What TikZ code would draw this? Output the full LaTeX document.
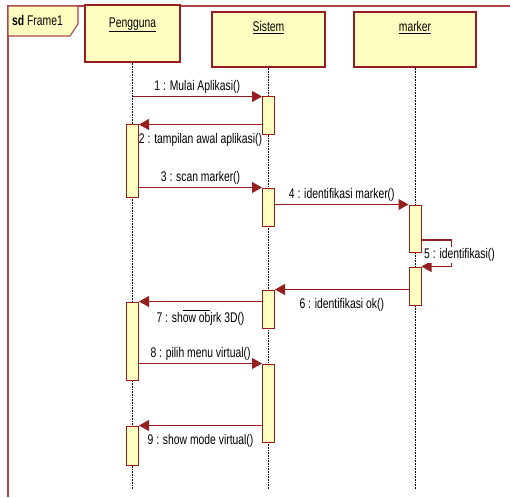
\documentclass[tikz,border=0pt]{standalone}
\usepackage{fontspec}
\setmainfont{Liberation Sans}[FakeStretch=0.74]
\usepackage{tikz}
\usetikzlibrary{arrows.meta}
\usetikzlibrary{positioning}
\definecolor{umlred}{RGB}{150,30,30}
\definecolor{framered}{RGB}{170,70,70}
\definecolor{umlyellow}{RGB}{255,255,194}
\tikzset{>={Triangle[length=10pt,width=11pt]}}
\tikzset{
  head/.style={draw=umlred, fill=umlyellow, line width=1.1pt, minimum height=55pt},
  act/.style={draw=umlred, fill=umlyellow, line width=1pt, minimum width=12pt, inner sep=0pt},
  msg/.style={->, color=umlred, line width=1.1pt},
  lifeline/.style={densely dotted, line width=0.6pt},
  msglabel/.style={text=black, inner sep=2pt}
}
\begin{document}
\begin{tikzpicture}[x=1pt, y=-1pt, font=\fontsize{14}{16}\selectfont]
        \useasboundingbox (0,0) rectangle (510,497);

        % frame
        \draw [framered, line width=1.3pt] (8,497) -- (8,6) -- (510,6);
        \draw [framered, line width=1.1pt, fill=umlyellow] (8,6) -- (78,6) -- (78,24) -- (70,36) -- (8,36) -- cycle;
        \node [anchor=west, inner sep=0pt] (framelabel) at (12,20) {\textbf{sd} Frame1};

        % lifelines
        \node [head, minimum width=95pt, minimum height=57pt] (pengguna) at (132.5,33.5) {};
        \node [head, minimum width=113pt] (sistem) at (268.5,39.5) {};
        \node [head, minimum width=122pt] (marker) at (415,39.5) {};
        \node [below=13pt of pengguna.north, inner sep=0pt] (penggunaname) {\underline{Pengguna}};
        \node [below=10pt of sistem.north, inner sep=0pt] (sistemname) {\underline{Sistem}};
        \node [below=10pt of marker.north, inner sep=0pt] (markername) {\underline{marker}};

        \coordinate (lifeend) at (0,489);
        \draw [lifeline] (pengguna.south) -- (pengguna.south |- lifeend);
        \draw [lifeline] (sistem.south) -- (sistem.south |- lifeend);
        \draw [lifeline] (marker.south) -- (marker.south |- lifeend);

        % activations
        \node [act, minimum height=38pt] (s1) at (268.5,116) {};
        \node [act, minimum height=72pt] (p1) at (132.5,161) {};
        \node [act, minimum height=38pt] (s2) at (268.5,207) {};
        \node [act, minimum height=47pt] (m1) at (415,228.5) {};
        \node [act, minimum height=38pt] (m2) at (415,286) {};
        \node [act, minimum height=38pt] (s3) at (268.5,309) {};
        \node [act, minimum height=78pt] (p2) at (132.5,341) {};
        \node [act, minimum height=78pt] (s4) at (268.5,403) {};
        \node [act, minimum height=39pt] (p3) at (132.5,445.5) {};

        % messages
        \draw [msg] (pengguna.south |- s1.north) -- node [msglabel, above=1pt] {1 : Mulai Aplikasi()} (s1.north west);
        \draw [msg] (s1.west |- p1.north) -- node [msglabel, below=6pt] {2 : tampilan awal aplikasi()} (p1.north east);
        \draw [msg] (p1.east |- s2.north) -- node [msglabel, above=1pt] {3 : scan marker()} (s2.north west);
        \draw [msg] (s2.east |- m1.north) -- node [msglabel, above=1pt] {4 : identifikasi marker()} (m1.north west);
        \coordinate (selfstart) at (m1.east |- 0,240);
        \draw [msg] (selfstart) -- ++(30,0) |- (m2.north east);
        \node [msglabel, anchor=west, fill=white, inner sep=1pt] (selflabel) at (423,255) {5 : identifikasi()};
        \draw [msg] (m2.west |- s3.north) -- node [msglabel, below=6pt] {6 : identifikasi ok()} (s3.north east);
        \draw [msg] (s3.west |- p2.north) -- node [msglabel, below=6pt] {7 : sh$\overline{\hbox{ow ob}}$jrk 3D()} (p2.north east);
        \draw [msg] (p2.east |- s4.north) -- node [msglabel, above=1pt] {8 : pilih menu virtual()} (s4.north west);
        \draw [msg] (s4.west |- p3.north) -- node [msglabel, below=6pt] {9 : show mode virtual()} (p3.north east);
    \end{tikzpicture}
\end{document}
